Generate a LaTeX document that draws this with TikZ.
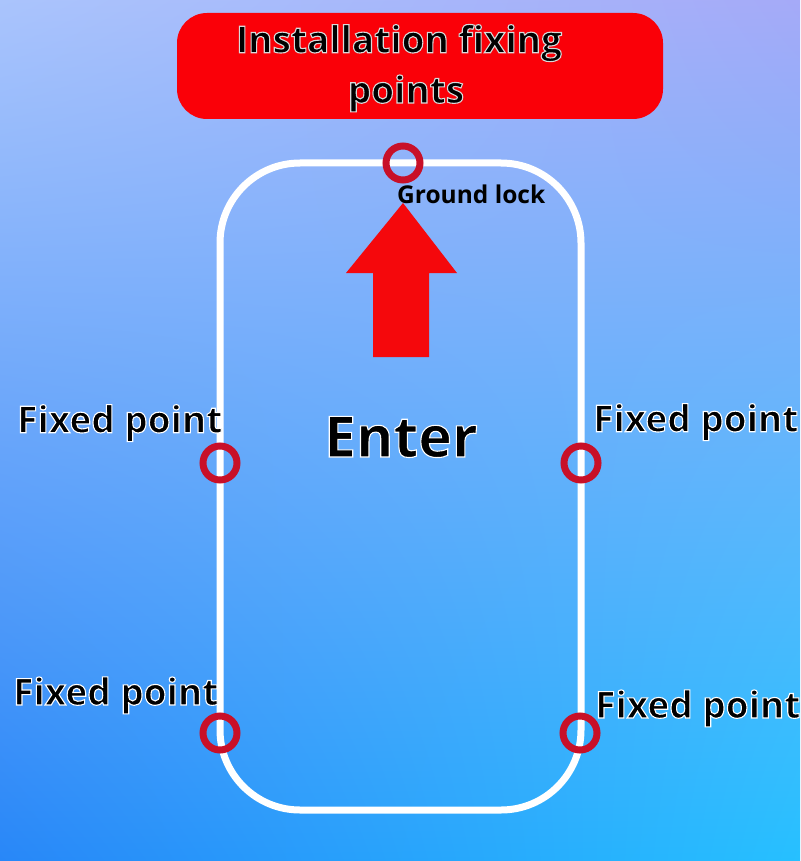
\documentclass[tikz,border=0pt]{standalone}
\usetikzlibrary{shadings}
\usepackage{fontspec}
\setmainfont{Open Sans}
\newcommand\outl[1]{\special{pdf:literal direct 2 Tr 1.1 w 1 1 1 RG}#1\special{pdf:literal direct 0 Tr 0.4 w 0 0 0 RG}}
\newcommand\outlg[1]{\special{pdf:literal direct 2 Tr 1.1 w 0.85 0.85 0.85 RG}#1\special{pdf:literal direct 0 Tr 0.4 w 0 0 0 RG}}
\definecolor{bgUL}{RGB}{170,196,252}
\definecolor{bgUR}{RGB}{165,170,248}
\definecolor{bgLL}{RGB}{40,135,248}
\definecolor{bgLR}{RGB}{38,192,255}
\definecolor{bannerred}{RGB}{250,0,8}
\definecolor{arrowred}{RGB}{245,8,12}
\definecolor{ringred}{RGB}{200,16,40}
\tikzset{
  fixring/.style={circle, draw=ringred, line width=7pt, minimum size=34pt, inner sep=0pt},
  lbl/.style={inner sep=0pt, font=\bfseries\fontsize{37}{44}\selectfont, text=black},
  titletxt/.style={inner sep=0pt, font=\bfseries\fontsize{37}{44}\selectfont, text=black},
  banner/.style={fill=bannerred, rounded corners=30pt, minimum width=486pt, minimum height=106pt, inner sep=0pt}
}
\begin{document}
\begin{tikzpicture}[x=1pt,y=-1pt]
\useasboundingbox (0,0) rectangle (800,861);
\shade[upper left=bgUL, upper right=bgUR, lower left=bgLL, lower right=bgLR] (0,0) rectangle (800,861);
% banner
\node[banner] (banner) at (420,66) {};
% outline
\draw[white, line width=7pt, rounded corners=80pt] (220,163) rectangle (581,810);
% arrow
\fill[arrowred] (373,357) -- (373,273) -- (346,273) -- (403,203) -- (457,273) -- (429,273) -- (429,357) -- cycle;
% rings
\node[fixring] (top) at (403,163) {};
\node[fixring] (ml) at (220,463) {};
\node[fixring] (mr) at (581,463) {};
\node[fixring] (bl) at (220,733) {};
\node[fixring] (br) at (580,733) {};
% labels
\node[titletxt, anchor=base] (title1) at (399,52.7) {\outlg{Installation fixing}};
\node[titletxt, anchor=base] (title2) at (406,103) {\outlg{points}};
\node[inner sep=0pt, anchor=base west, font=\bfseries\fontsize{24.5}{28}\selectfont] (glock) at (397,203) {Ground lock};
\node[inner sep=0pt, anchor=base, font=\bfseries\fontsize{57}{64}\selectfont] (enter) at (401,457) {\outl{Enter}};
\node[lbl, anchor=base west] (fpl1) at (17,432.7) {\outl{Fixed point}};
\node[lbl, anchor=base west] (fpr1) at (593,431.7) {\outl{Fixed point}};
\node[lbl, anchor=base west] (fpl2) at (13,705) {\outl{Fixed point}};
\node[lbl, anchor=base west] (fpr2) at (595,718) {\outl{Fixed point}};
\end{tikzpicture}
\end{document}
